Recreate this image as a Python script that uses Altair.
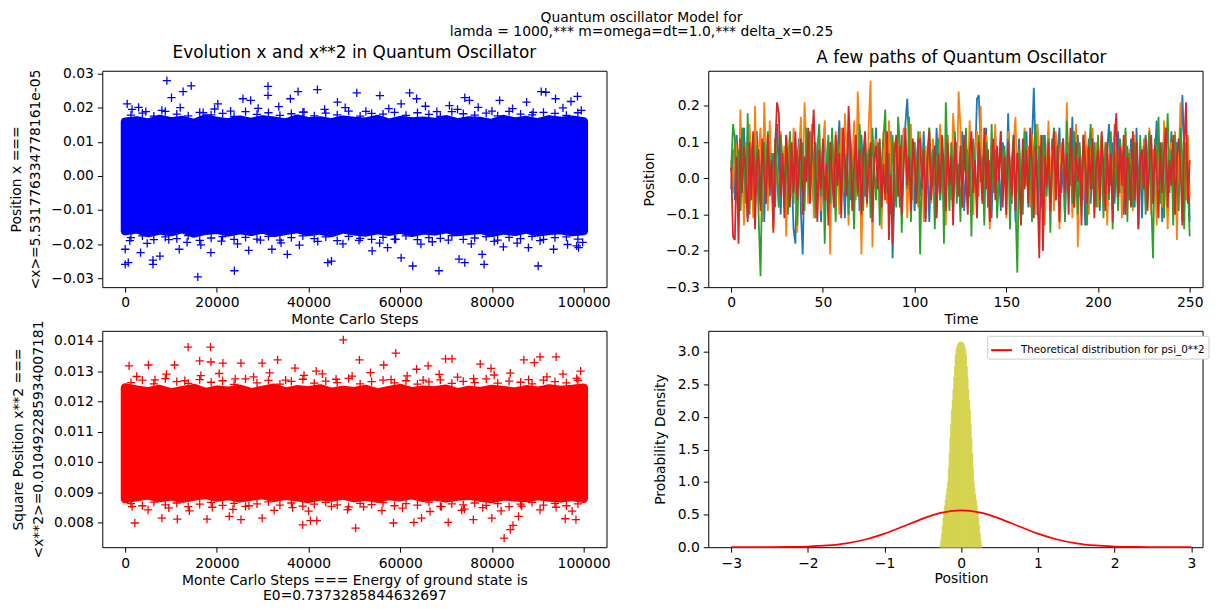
import altair as alt
import pandas as pd

FONT = "DejaVu Sans"
PLUS = "M-1,0L1,0M0,-1L0,1"

# ---------------- Panel 1: x evolution (dense band + outlying markers) ----------------
env_steps = list(range(0, 100001, 2500))
edge_steps = list(range(1250, 100000, 2500))
x_upper = [0.0158, 0.0162, 0.0155, 0.0166, 0.0159, 0.0163, 0.0154, 0.0168, 0.0160, 0.0156, 0.0164,
           0.0157, 0.0165, 0.0161, 0.0155, 0.0167, 0.0159, 0.0162, 0.0156, 0.0164, 0.0160, 0.0158,
           0.0166, 0.0155, 0.0163, 0.0159, 0.0161, 0.0157, 0.0165, 0.0156, 0.0162, 0.0160, 0.0154,
           0.0166, 0.0158, 0.0163, 0.0156, 0.0165, 0.0160, 0.0164, 0.0159]
x_lower = [-0.0161, -0.0156, -0.0167, -0.0159, -0.0164, -0.0155, -0.0168, -0.0160, -0.0157, -0.0165,
           -0.0158, -0.0163, -0.0156, -0.0166, -0.0160, -0.0155, -0.0164, -0.0159, -0.0167, -0.0156,
           -0.0162, -0.0165, -0.0158, -0.0163, -0.0156, -0.0166, -0.0159, -0.0162, -0.0155, -0.0164,
           -0.0160, -0.0157, -0.0166, -0.0159, -0.0163, -0.0156, -0.0165, -0.0160, -0.0158, -0.0164,
           -0.0161]
x_edge_top = [0.0178, 0.0184, 0.0175, 0.0189, 0.0181, 0.0176, 0.0186, 0.0179, 0.0183, 0.0174,
              0.0188, 0.0180, 0.0185, 0.0177, 0.0182, 0.0187, 0.0176, 0.0184, 0.0179, 0.0190,
              0.0175, 0.0183, 0.0181, 0.0186, 0.0177, 0.0185, 0.0180, 0.0174, 0.0188, 0.0182,
              0.0178, 0.0184, 0.0176, 0.0189, 0.0181, 0.0179, 0.0186, 0.0183, 0.0177, 0.0185]
x_edge_bot = [-0.0181, -0.0176, -0.0187, -0.0179, -0.0184, -0.0175, -0.0189, -0.0182, -0.0178,
              -0.0186, -0.0180, -0.0185, -0.0177, -0.0188, -0.0181, -0.0176, -0.0184, -0.0179,
              -0.0190, -0.0177, -0.0183, -0.0186, -0.0180, -0.0185, -0.0176, -0.0187, -0.0181,
              -0.0183, -0.0175, -0.0186, -0.0182, -0.0178, -0.0188, -0.0180, -0.0184, -0.0177,
              -0.0186, -0.0181, -0.0179, -0.0185]
x_pts_step = [9090, 14390, 12630, 10100, 31150, 31150, 37710, 41930, 50520, 55560, 62050, 63570,
              74080, 75100, 81680, 90760, 91760, 98660, 93880, 97250, 430, 2920, 25680, 27370,
              20210, 36030, 46300, 60190, 70730, 87560,
              1500, 4500, 8000, 12000, 17000, 19500, 23000, 29000, 33500, 39000, 43500, 48000,
              52500, 57500, 65500, 68000, 72500, 77000, 80000, 84500, 89000, 95500, 99500,
              0, 670, 0, 6060, 6060, 15840, 23820, 44200, 45000, 60190, 62720, 68450, 72830,
              74080, 78300, 77870, 90090, 98910, 98500, 7570, 3350, 11790, 18690, 26940, 32000,
              35370, 53870, 57230, 82500, 93450, 87960,
              1000, 4800, 9500, 13500, 16500, 21000, 24500, 29500, 34000, 38000, 42000, 47500,
              51000, 55500, 59000, 64500, 67000, 70500, 75500, 80500, 85500, 90500, 96500, 99800]
x_pts_val = [0.0279, 0.0264, 0.0247, 0.0229, 0.0262, 0.0236, 0.0247, 0.0253, 0.0243, 0.0235, 0.0243,
             0.0226, 0.0229, 0.0221, 0.0221, 0.0247, 0.0245, 0.0233, 0.0226, 0.0218, 0.0211, 0.0201,
             0.0226, 0.0221, 0.0211, 0.0226, 0.0216, 0.0211, 0.0206, 0.0216,
             0.0195, 0.0188, 0.0192, 0.0200, 0.0185, 0.0196, 0.0190, 0.0198, 0.0203, 0.0187, 0.0195,
             0.0200, 0.0189, 0.0197, 0.0204, 0.0188, 0.0195, 0.0201, 0.0190, 0.0197, 0.0186, 0.0199,
             0.0192,
             -0.0259, -0.0254, -0.0215, -0.0259, -0.0247, -0.0296, -0.0278, -0.0254, -0.0250,
             -0.0240, -0.0264, -0.0278, -0.0244, -0.0254, -0.0259, -0.0230, -0.0264, -0.0210,
             -0.0205, -0.0235, -0.0225, -0.0215, -0.0225, -0.0218, -0.0215, -0.0230, -0.0220,
             -0.0210, -0.0208, -0.0215, -0.0210,
             -0.0190, -0.0198, -0.0187, -0.0195, -0.0202, -0.0191, -0.0199, -0.0188, -0.0196,
             -0.0203, -0.0192, -0.0199, -0.0189, -0.0197, -0.0186, -0.0200, -0.0193, -0.0188,
             -0.0199, -0.0192, -0.0197, -0.0190, -0.0201, -0.0195]

# ---------------- Panel 3: x**2 evolution ----------------
x2_upper = [0.01245, 0.01238, 0.01232, 0.01240, 0.01228, 0.01236, 0.01243, 0.01230, 0.01238, 0.01234,
            0.01241, 0.01229, 0.01237, 0.01244, 0.01231, 0.01239, 0.01235, 0.01242, 0.01230, 0.01237,
            0.01233, 0.01240, 0.01228, 0.01236, 0.01243, 0.01232, 0.01238, 0.01235, 0.01241, 0.01229,
            0.01237, 0.01233, 0.01240, 0.01236, 0.01231, 0.01239, 0.01234, 0.01242, 0.01237, 0.01240,
            0.01244]
x2_lower = [0.00878, 0.00884, 0.00890, 0.00881, 0.00887, 0.00879, 0.00886, 0.00892, 0.00883, 0.00888,
            0.00880, 0.00886, 0.00891, 0.00882, 0.00889, 0.00884, 0.00878, 0.00887, 0.00883, 0.00890,
            0.00881, 0.00886, 0.00879, 0.00888, 0.00884, 0.00891, 0.00882, 0.00887, 0.00880, 0.00886,
            0.00889, 0.00883, 0.00878, 0.00887, 0.00884, 0.00881, 0.00888, 0.00883, 0.00880, 0.00885,
            0.00879]
x2_edge_top = [0.01262, 0.01270, 0.01258, 0.01275, 0.01265, 0.01259, 0.01272, 0.01263, 0.01268,
               0.01256, 0.01274, 0.01261, 0.01269, 0.01257, 0.01266, 0.01273, 0.01260, 0.01267,
               0.01262, 0.01276, 0.01258, 0.01265, 0.01270, 0.01261, 0.01268, 0.01257, 0.01264,
               0.01271, 0.01259, 0.01266, 0.01262, 0.01274, 0.01260, 0.01267, 0.01263, 0.01258,
               0.01270, 0.01265, 0.01261, 0.01269]
x2_edge_bot = [0.00862, 0.00855, 0.00867, 0.00858, 0.00864, 0.00852, 0.00860, 0.00866, 0.00856,
               0.00863, 0.00853, 0.00861, 0.00868, 0.00857, 0.00864, 0.00854, 0.00860, 0.00866,
               0.00858, 0.00851, 0.00863, 0.00859, 0.00865, 0.00855, 0.00862, 0.00857, 0.00867,
               0.00853, 0.00861, 0.00858, 0.00864, 0.00856, 0.00862, 0.00852, 0.00860, 0.00866,
               0.00857, 0.00863, 0.00855, 0.00861]
x2_pts_step = [13720, 18610, 47580, 59030, 16250, 18700, 51100, 69880, 71300, 86970, 90500, 94010,
               89250, 99350, 79810, 77450, 66090, 63560, 33250, 29880, 25250, 21310, 10780, 5060,
               840, 56400, 41670, 37040,
               2500, 6500, 9000, 13000, 16500, 20500, 24000, 28000, 31500, 35000, 39000, 43000,
               46000, 49500, 53500, 58000, 61500, 65000, 68500, 72500, 76000, 80500, 84000, 88000,
               92000, 95500, 98500,
               82670, 84010, 84600, 50260, 38730, 40420, 41800, 2100, 58520, 62980, 70470, 98330,
               96000, 64650, 8000, 17850, 25250, 29880, 75940, 79980, 85800, 11360, 22700, 73400,
               1500, 5000, 9500, 14000, 19000, 23500, 27000, 32500, 36500, 40000, 45000, 48500,
               52000, 56000, 60500, 66500, 69000, 74000, 78000, 82000, 86500, 90500, 94000, 97500]
x2_pts_val = [0.01379, 0.01379, 0.01403, 0.01359, 0.01334, 0.01330, 0.01337, 0.01340, 0.01340,
              0.01337, 0.01347, 0.01347, 0.01328, 0.01300, 0.01309, 0.01323, 0.01317, 0.01306,
              0.01337, 0.01326, 0.01326, 0.01326, 0.01320, 0.01320, 0.01317, 0.01320, 0.01300,
              0.01310,
              0.01282, 0.01271, 0.01290, 0.01268, 0.01285, 0.01292, 0.01274, 0.01281, 0.01294,
              0.01270, 0.01286, 0.01291, 0.01273, 0.01283, 0.01295, 0.01272, 0.01284, 0.01270,
              0.01289, 0.01280, 0.01275, 0.01287, 0.01293, 0.01272, 0.01281, 0.01290, 0.01276,
              0.00748, 0.00776, 0.00790, 0.00781, 0.00792, 0.00806, 0.00806, 0.00798, 0.00798,
              0.00800, 0.00800, 0.00809, 0.00812, 0.00814, 0.00814, 0.00811, 0.00809, 0.00814,
              0.00809, 0.00814, 0.00820, 0.00811, 0.00820, 0.00840,
              0.00852, 0.00841, 0.00848, 0.00838, 0.00850, 0.00843, 0.00855, 0.00840, 0.00849,
              0.00837, 0.00853, 0.00842, 0.00851, 0.00839, 0.00847, 0.00836, 0.00852, 0.00844,
              0.00849, 0.00838, 0.00854, 0.00841, 0.00850, 0.00837]

# ---------------- Panel 2: a few paths (hundredths) ----------------
path_blue = [
    -3, 8, -6, 12, 3, -9, 5, 14, -2, -11, 6, 1, 10, -4, 13, -7, 2, 9, -12, 4, 11, -5, 0, 7, -8,
    15, 3, -10, 6, -1, 12, -6, 9, 2, -14, -18, 5, 11, -9, -21, 3, 8, -4, 13, 1, -7, 10, -3, 6, -12,
    4, 14, -5, 9, -2, 11, -8, 0, 7, 16, -4, 3, -11, 8, 13, -6, 2, 10, -3, 5, -9, 12, 1, -5, 7,
    -1, 9, -7, 4, 14, -3, 6, -10, 11, 2, 8, -6, 13, -22, -4, 10, 3, -8, 12, 5, 15, 22, 9, -2, 7,
    -9, 4, 11, -5, 1, 13, -7, 6, -12, 3, 9, -2, 14, 0, -6, 8, -10, 5, 12, -3, 7, -8, 2, 10, -4,
    6, 13, -9, 1, 8, -5, 11, -2, 4, 22, 23, 9, -6, 3, 14, -8, 5, -11, 7, 12, -3, 2, -9, 10, 6,
    -4, 18, 1, -7, 9, -12, 3, 11, -5, 8, -2, 13, -8, 4, 10, 25, 6, -10, 2, 9, -6, 12, -3, 5, -9,
    11, 1, -6, 8, 14, -4, 3, -11, 7, 10, -2, 17, -8, 5, 12, -5, 0, 9, -13, 4, 11, -7, 2, 10, -3,
    6, -9, 12, 1, -5, 8, 15, -2, 10, -7, 4, 13, -4, 7, -10, 2, 9, -6, 11, 3, -8, 14, -1, 5, -11,
    8, 12, -4, 3, 10, -7, 6, 16, -2, 9, -12, 4, 11, -5, 1, 13, -8, 7, 10, -3, 5, 23, 8, -6, 11,
    -12]
path_orange = [
    5, -4, 12, 7, -9, 19, 2, -13, 10, -6, 15, 4, -11, 20, -3, 8, 14, -12, 21, 6, -9, 16, 1, -14, 11,
    3, -8, 13, -2, 9, -16, 5, 12, -5, 14, 0, -15, 7, 17, -4, 21, 9, -7, 3, 15, -11, 6, -1, 12, -9,
    8, 16, -6, 2, -21, 11, -3, 13, 5, -10, 14, -4, 18, 7, -13, 10, 1, 16, -6, 24, 9, -21, 4, 12, -8,
    15, 27, -19, 6, 11, -3, 9, -14, 13, 2, -7, 16, 5, -18, 10, -4, 12, 0, -9, 14, 7, -11, 3, 15, -6,
    10, 2, -8, 13, 5, -12, 9, -2, 14, -7, 11, 4, -10, 8, 15, -3, 6, -13, 12, 1, -6, 18, 9, -4, 24,
    14, -8, 7, 11, -2, 16, 3, -10, 8, 13, -5, 20, 2, -7, 12, 6, -14, 9, -1, 15, -9, 4, 11, -3, 7,
    -11, 13, 2, -6, 10, 17, -4, 8, -12, 5, 14, -2, 9, -8, 12, 3, -10, 15, 6, -5, 11, -13, 4, 16, -1,
    8, -9, 13, 2, -14, 10, 5, -7, 21, -3, 12, -11, 6, 15, -19, 9, 1, -6, 13, 4, -10, 8, 14, -2, 10,
    -8, 5, 12, -4, 9, -13, 3, 11, -6, 15, 7, -2, 10, -11, 4, 13, -5, 8, 1, -9, 12, 6, -14, 9, -3,
    11, -7, 4, 14, -10, 8, 2, -13, 12, 5, -8, 16, 0, -14, 7, 10, -4, 13, -17, 5, 21, -12, 9, -6, 12,
    -5]
path_green = [
    2, 15, 11, -5, 8, -9, 14, 3, -7, 18, -10, 6, 12, -3, 9, -11, -27, 4, 10, -6, 13, -2, 7, -12, 11,
    1, -8, 12, 5, -4, 9, -10, 13, 2, -7, 11, -13, 6, -3, 10, -9, 14, 0, -6, 12, 3, -11, 8, 15, -5,
    9, -18, 4, 12, -7, 14, 1, -12, 10, 5, -8, 13, -3, 7, -10, 11, 2, -14, 9, -5, 15, 6, -9, 12, -2,
    8, -11, 14, 3, -6, 10, -13, 4, 11, 19, -4, 7, -10, 12, 1, -8, 17, 9, -15, 6, 11, -3, 17, -12, 5,
    10, -7, 13, -21, 4, 9, -11, 6, 14, -2, 8, -14, 3, 11, -6, 12, -18, 21, 5, -9, 10, -1, 13, -7, 4,
    -12, 9, 2, 14, -5, 7, -16, 11, 3, -8, 12, -1, 6, -13, 10, 4, -9, 15, -4, 8, -11, 2, 13, -6, 9,
    -3, 11, -14, 5, 12, -7, -26, 8, 1, -10, 13, 4, -6, 10, -12, 7, 15, -3, 9, -8, 12, 2, -5, 11, -15,
    6, 14, -4, 9, -9, 3, 11, -12, 16, -2, 8, -7, 13, 1, -10, 10, -5, 12, 4, -13, 7, 15, -3, 9, -8,
    12, -1, 6, -11, 10, 3, -6, 13, -14, 8, 2, -9, 11, 5, -4, 14, -12, 7, 0, -8, 10, 6, -13, 12, -3,
    9, -10, 4, 13, -6, -22, 11, 2, 17, -7, 10, -11, 5, 18, -4, 8, -13, 12, 1, -9, 14, 6, -14, 10, -2,
    -16]
path_red = [
    3, -16, -17, 6, -18, 11, -4, 9, 2, -12, 10, -6, 13, -14, 4, 8, -9, 11, 1, -7, 12, -3, 5, -15, 9,
    21, 18, -5, 7, -11, 12, 2, -8, 10, -4, 13, -6, 3, 11, -10, 6, -1, 14, -7, 9, 19, 2, -12, 8, -3,
    11, -6, 4, -13, 10, 1, -8, 12, -2, 7, -11, 14, 5, -5, 20, 9, -9, 3, 12, -4, 8, -10, 6, 13, -7,
    2, 10, -12, 5, 9, -3, 11, -8, 4, -6, 13, -17, 1, -18, 7, 12, -5, 9, -10, 3, 14, -2, 6, -9, 11,
    4, -7, 10, 11, -3, 8, -12, 5, 13, -6, 2, 9, -11, 7, -4, 12, 1, -9, 10, -2, 6, -13, 11, 3, -5,
    9, -8, 12, 0, -10, 7, 13, -4, 5, -11, 10, 2, -7, 14, -3, 8, -12, 4, 11, -6, 9, -1, 13, -8, 6,
    -10, 10, 3, -5, 12, -9, 7, 1, -13, 11, -3, 8, -7, 14, 5, -11, 9, -4, -22, 12, -20, 6, -2, 10, -9,
    4, 13, -6, 9, -12, 2, 11, -4, 7, -10, 14, 3, -8, 10, -1, 6, -13, 12, 5, -7, 9, -3, 11, -11, 4,
    8, -6, 13, 2, -9, 10, -4, 7, -12, 11, 18, -5, 9, -2, 12, -10, 6, 3, -8, 13, -6, 10, -14, 5, 8,
    -3, 11, -9, 4, 12, -7, 9, 1, -11, 10, -4, 7, 14, -8, 5, -2, 12, -10, 6, 11, 3, -13, 9, 21, -7,
    5]
path_names = ["path 1", "path 2", "path 3", "path 4"]
path_colors = ["#1f77b4", "#ff7f0e", "#2ca02c", "#d62728"]

# ---------------- Panel 4: histogram + theoretical curve ----------------
hist_centers = [round(-0.275 + 0.01 * i, 3) for i in range(55)]
hist_heights = [0.03, 0.10, 0.20, 0.33, 0.45, 0.54, 0.63, 0.72, 0.81, 0.90, 1.00, 1.22, 1.44, 1.67,
                1.89, 2.10, 2.25, 2.42, 2.60, 2.77, 2.95, 3.03, 3.08, 3.11, 3.13, 3.14, 3.15, 3.15,
                3.15, 3.14, 3.13, 3.11, 3.08, 3.03, 2.95, 2.77, 2.60, 2.42, 2.25, 2.10, 1.89, 1.67,
                1.44, 1.22, 1.00, 0.90, 0.81, 0.72, 0.63, 0.54, 0.45, 0.33, 0.20, 0.10, 0.03]
theory_x = [-3.0, -2.75, -2.5, -2.25, -2.0, -1.75, -1.5, -1.25, -1.0, -0.75, -0.5, -0.25, 0.0,
            0.25, 0.5, 0.75, 1.0, 1.25, 1.5, 1.75, 2.0, 2.25, 2.5, 2.75, 3.0]
theory_y = [0.0001, 0.0003, 0.0011, 0.0036, 0.0103, 0.0264, 0.0595, 0.1182, 0.2076, 0.3215, 0.4394,
            0.5300, 0.5642, 0.5300, 0.4394, 0.3215, 0.2076, 0.1182, 0.0595, 0.0264, 0.0103, 0.0036,
            0.0011, 0.0003, 0.0001]
legend_label = "Theoretical distribution for psi_0**2"

step_ticks = [0, 20000, 40000, 60000, 80000, 100000]

W_L, W_R, H = 508, 498, 218


def sub_title(text, dx=0):
    return alt.TitleParams(text, fontSize=17, font=FONT, fontWeight="normal", color="black",
                           anchor="middle", offset=4.3, dx=dx)


def scatter_panel(up, lo, etop, ebot, px, py, color, ydom, yticks, yfmt, ytitle, ytitle_x,
                  ytitle_lh, xtitle, xtitle_y, xtitle_lh, title):
    env = pd.DataFrame({"step": env_steps, "upper": up, "lower": lo})
    pts = pd.DataFrame({"step": edge_steps + edge_steps + px, "val": etop + ebot + py})
    xs = alt.Scale(domain=[-5000, 105000], nice=False, zero=False)
    ys = alt.Scale(domain=ydom, nice=False, zero=False)
    xaxis = alt.Axis(values=step_ticks, format="d", title=xtitle, titleY=xtitle_y,
                     titleBaseline="middle", titleLineHeight=xtitle_lh)
    yaxis = alt.Axis(values=yticks, format=yfmt, title=ytitle, titleX=ytitle_x, titleY=H / 2,
                     titleBaseline="middle", titleAlign="center", titleAngle=270,
                     titleLineHeight=ytitle_lh)
    band = alt.Chart(env).mark_area(color=color, stroke=color, strokeWidth=9, strokeJoin="round",
                                    opacity=1).encode(
        x=alt.X("step:Q", scale=xs, axis=xaxis),
        y=alt.Y("upper:Q", scale=ys, axis=yaxis),
        y2="lower:Q")
    marks = alt.Chart(pts).mark_point(shape=PLUS, filled=False, size=70, strokeWidth=1.3,
                                      color=color, opacity=1).encode(
        x=alt.X("step:Q", scale=xs, axis=xaxis),
        y=alt.Y("val:Q", scale=ys, axis=yaxis))
    layer = alt.layer(band, marks).properties(width=W_L, height=H)
    if title:
        layer = layer.properties(title=sub_title(title))
    return layer


tl = scatter_panel(x_upper, x_lower, x_edge_top, x_edge_bot, x_pts_step, x_pts_val, "#0000ff",
                   [-0.0326, 0.0308], [-0.03, -0.02, -0.01, 0.0, 0.01, 0.02, 0.03], ".2f",
                   ["Position x ===", "<x>=5.531776334778161e-05"], -86.6, 19.5,
                   "Monte Carlo Steps", 32.7, 15,
                   "Evolution x and x**2 in Quantum Oscillator")

bl = scatter_panel(x2_upper, x2_lower, x2_edge_top, x2_edge_bot, x2_pts_step, x2_pts_val,
                   "#ff0000", [0.00718, 0.01433],
                   [0.008, 0.009, 0.010, 0.011, 0.012, 0.013, 0.014], ".3f",
                   ["Square Position x**2 ===", "<x**2>=0.010492285934007181"], -84.0, 19.5,
                   ["Monte Carlo Steps === Energy of ground state is", "E0=0.7373285844632697"],
                   33.5, 15, "")

rows = []
for name, vals in zip(path_names, [path_blue, path_orange, path_green, path_red]):
    for t, v in enumerate(vals):
        rows.append({"t": t, "pos": v / 100.0, "path": name})
paths_df = pd.DataFrame(rows)

tr = alt.Chart(paths_df).mark_line(strokeWidth=1.8).encode(
    x=alt.X("t:Q", scale=alt.Scale(domain=[-12.5, 257.0], nice=False, zero=False),
            axis=alt.Axis(values=[0, 50, 100, 150, 200, 250], format="d", title="Time",
                          titleX=254.7, titleY=32.7, titleBaseline="middle")),
    y=alt.Y("pos:Q", scale=alt.Scale(domain=[-0.3, 0.297], nice=False, zero=False),
            axis=alt.Axis(values=[-0.3, -0.2, -0.1, 0.0, 0.1, 0.2], format=".1f",
                          title="Position", titleX=-59, titleY=H / 2, titleBaseline="middle",
                          titleAlign="center", titleAngle=270)),
    color=alt.Color("path:N", scale=alt.Scale(domain=path_names, range=path_colors), legend=None),
).properties(width=W_R, height=H, title=sub_title("A few paths of Quantum Oscillator", dx=6))

hist_df = pd.DataFrame({"lo": [c - 0.005 for c in hist_centers],
                        "hi": [c + 0.005 for c in hist_centers],
                        "dens": hist_heights, "base": [0.0] * len(hist_centers)})
theory_df = pd.DataFrame({"lo": theory_x, "dens": theory_y, "label": [legend_label] * len(theory_x)})

bx = alt.Scale(domain=[-3.3, 3.147], nice=False, zero=False)
by = alt.Scale(domain=[0, 3.32], nice=False, zero=False)
bxaxis = alt.Axis(values=[-3, -2, -1, 0, 1, 2, 3], format="d", title="Position",
                  titleX=254.7, titleY=32, titleBaseline="middle")
byaxis = alt.Axis(values=[0, 0.5, 1.0, 1.5, 2.0, 2.5, 3.0], format=".1f",
                  title="Probability Density", titleX=-48, titleY=H / 2,
                  titleBaseline="middle", titleAlign="center", titleAngle=270)
hist = alt.Chart(hist_df).mark_rect(color="#d4d34e", stroke="#d4d34e", strokeWidth=0.6).encode(
    x=alt.X("lo:Q", scale=bx, axis=bxaxis),
    x2="hi:Q",
    y=alt.Y("dens:Q", scale=by, axis=byaxis),
    y2="base:Q")
theory = alt.Chart(theory_df).mark_line(strokeWidth=1.8, interpolate="monotone").encode(
    x=alt.X("lo:Q", scale=bx, axis=bxaxis),
    y=alt.Y("dens:Q", scale=by, axis=byaxis),
    color=alt.Color("label:N", scale=alt.Scale(domain=[legend_label], range=["#ff0000"]),
                    legend=alt.Legend(title=None, orient="none", legendX=281, legendY=5,
                                      symbolType="stroke", symbolStrokeWidth=2, symbolSize=441,
                                      labelFontSize=10.4, labelFont=FONT, labelColor="black",
                                      labelOffset=8, labelLimit=400, fillColor="white",
                                      strokeColor="#cccccc", padding=3, cornerRadius=2)))
br = alt.layer(hist, theory).properties(width=W_R, height=H)

chart = alt.concat(tl, tr, bl, br, columns=2, spacing={"row": 44, "column": 102.5},
                   bounds="flush").resolve_scale(color="independent").properties(
    padding=0,
    title=alt.TitleParams(["Quantum oscillator Model for",
                           "lamda = 1000,*** m=omega=dt=1.0,*** delta_x=0.25"],
                          fontSize=14, font=FONT, fontWeight="normal", color="black",
                          anchor="middle", lineHeight=14, offset=5.3, dx=32.5)
).configure_view(stroke="black", strokeWidth=1).configure_axis(
    labelFontSize=14, titleFontSize=14, labelFont=FONT, titleFont=FONT, labelColor="black",
    titleColor="black", tickColor="black", tickSize=5, tickWidth=1, labelPadding=4,
    domain=False, grid=False, titleFontWeight="normal"
)

chart.save("out.html", embed_options={"renderer": "svg", "actions": False})
